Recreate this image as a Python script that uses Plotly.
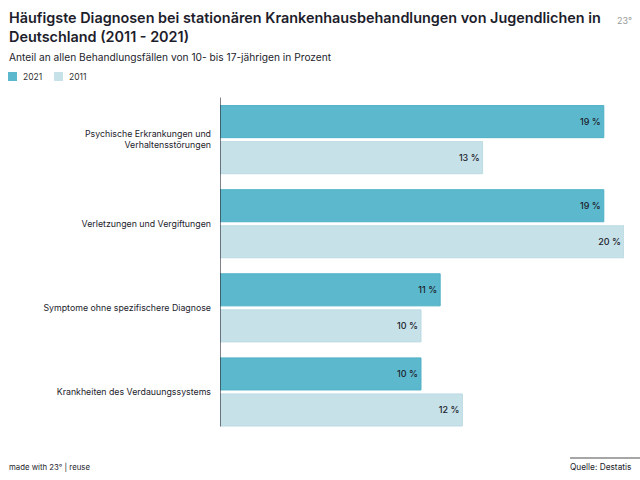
import plotly.graph_objects as go

categories = ["Psychische Erkrankungen und<br>Verhaltensstörungen",
              "Verletzungen und Vergiftungen",
              "Symptome ohne spezifischere Diagnose",
              "Krankheiten des Verdauungssystems"]
values_2021 = [19.0, 19.0, 10.9, 9.95]
values_2011 = [13.0, 20.0, 9.95, 12.0]
series_names = ["2021", "2011"]

FONT = "Inter"
DARK = "#1d1d2c"
C21 = "#5cb9cd"
C11 = "#c6e1e8"

W, H = 640, 480
L, R, T, B = 220, 16, 97, 46
PW, PH = W - L - R, H - T - B

def px_x(x):
    return (x - L) / PW

def px_y(y):
    return 1 - (y - T) / PH

fig = go.Figure()
fig.add_trace(go.Bar(
    name=series_names[0], y=categories, x=values_2021, orientation="h",
    marker=dict(color=C21, line=dict(color="#4fb0c5", width=1)),
    text=[f"{round(v)} %" for v in values_2021], textposition="inside",
    insidetextanchor="end", textfont=dict(family=FONT, size=9, color=DARK, weight=500),
    hoverinfo="skip"))
fig.add_trace(go.Bar(
    name=series_names[1], y=categories, x=values_2011, orientation="h",
    marker=dict(color=C11, line=dict(color="#bcdbe3", width=1)),
    text=[f"{round(v)} %" for v in values_2011], textposition="inside",
    insidetextanchor="end", textfont=dict(family=FONT, size=9, color=DARK, weight=500),
    hoverinfo="skip"))

fig.update_layout(
    width=W, height=H,
    margin=dict(l=L, r=R, t=T, b=B, autoexpand=False),
    paper_bgcolor="white", plot_bgcolor="white",
    barmode="group", bargap=0.143, bargroupgap=0.111,
    font=dict(family=FONT, color=DARK),
    showlegend=False,
    xaxis=dict(range=[0, 20], visible=False, fixedrange=True),
    yaxis=dict(autorange="reversed", showline=False, showgrid=False,
               ticks="", ticklabelstandoff=8, automargin=False,
               tickfont=dict(family=FONT, size=8.8, color=DARK)),
)

fig.add_shape(type="line", xref="x", yref="y", x0=0, x1=0, y0=-0.5, y1=3.41,
              line=dict(color="#2a2a3a", width=1.2))

# Title
fig.add_annotation(text="Häufigste Diagnosen bei stationären Krankenhausbehandlungen von Jugendlichen in<br>Deutschland (2011 - 2021)",
                   xref="paper", yref="paper", x=px_x(7), y=px_y(7),
                   xanchor="left", yanchor="top", align="left", showarrow=False,
                   font=dict(family=FONT, size=14.4, color=DARK, weight=600))
# Subtitle
fig.add_annotation(text="Anteil an allen Behandlungsfällen von 10- bis 17-jährigen in Prozent",
                   xref="paper", yref="paper", x=px_x(7), y=px_y(57),
                   xanchor="left", yanchor="middle", showarrow=False,
                   font=dict(family=FONT, size=10.2, color=DARK))
# Legend (manual)
for i, (name, col) in enumerate(zip(series_names, [C21, C11])):
    x0 = 8 + i * 46
    fig.add_shape(type="rect", xref="paper", yref="paper",
                  x0=px_x(x0), x1=px_x(x0 + 9), y0=px_y(81), y1=px_y(72),
                  fillcolor=col, line=dict(width=0))
    fig.add_annotation(text=name, xref="paper", yref="paper",
                       x=px_x(x0 + 13), y=px_y(76.5), xanchor="left", yanchor="middle",
                       showarrow=False, font=dict(family=FONT, size=8.5, color="#333"))
# Footer
fig.add_annotation(text="made with 23° | reuse", xref="paper", yref="paper",
                   x=px_x(7), y=px_y(467), xanchor="left", yanchor="middle",
                   showarrow=False, font=dict(family=FONT, size=7.8, color=DARK))
fig.add_annotation(text="Quelle: Destatis", xref="paper", yref="paper",
                   x=px_x(633), y=px_y(467), xanchor="right", yanchor="middle",
                   showarrow=False, font=dict(family=FONT, size=8.3, color=DARK))
fig.add_shape(type="line", xref="paper", yref="paper",
              x0=px_x(570), x1=px_x(640), y0=px_y(458), y1=px_y(458),
              line=dict(color="#888", width=1.5))
fig.add_annotation(text="23°", xref="paper", yref="paper",
                   x=px_x(634), y=px_y(20), xanchor="right", yanchor="middle",
                   showarrow=False, font=dict(family=FONT, size=9, color="#999"))

fig.write_html("out.html")
